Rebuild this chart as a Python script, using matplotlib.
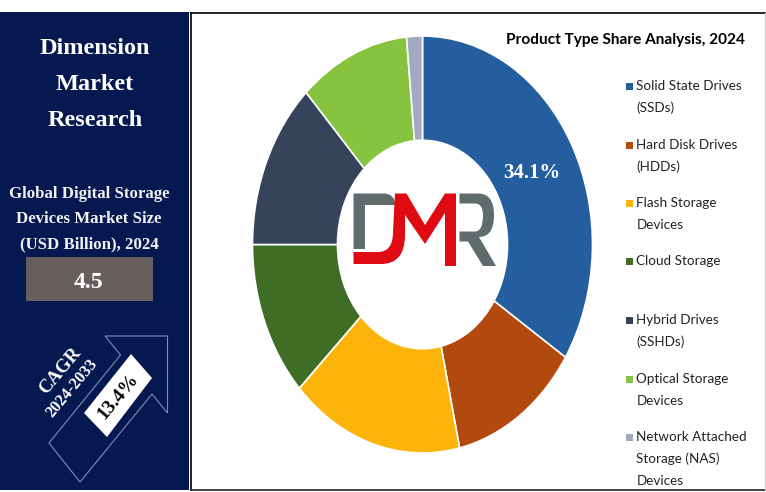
import matplotlib
matplotlib.use('Agg')
import matplotlib.pyplot as plt
from matplotlib.patches import Rectangle, Polygon, PathPatch
from matplotlib.path import Path

W, H = 766, 492

# shares, only SSD is printed on the chart
segments = ['Solid State Drives\n(SSDs)', 'Hard Disk Drives\n(HDDs)', 'Flash Storage\nDevices',
            'Cloud Storage', 'Hybrid Drives\n(SSHDs)', 'Optical Storage\nDevices',
            'Network Attached\nStorage (NAS)\nDevices']
shares = [34.1, 12.4, 16.4, 12.1, 13.0, 10.5, 1.5]
colors = ['#255E9F', '#B2490F', '#FDB40A', '#3F6D26', '#35435B', '#86C440', '#A0ABC0']
legend_y = [86, 145, 203, 261, 320, 379, 437]

NAVY = '#05184F'
GREY_LOGO = '#5F6C6B'
RED_LOGO = '#E00A12'

fig = plt.figure(figsize=(W / 100, H / 100), dpi=100)
ax = fig.add_axes([0, 0, 1, 1])
ax.set_xlim(0, W)
ax.set_ylim(H, 0)
ax.axis('off')

# left panel and frame
ax.add_patch(Rectangle((0, 12), 189, 477.5, fc=NAVY, ec='none'))
ax.plot([190.5, 764.5], [13, 13], color='black', lw=1.2)
ax.plot([190.5, 190.5], [13, 489.5], color='black', lw=1.2)
ax.plot([190.5, 764.5], [489.5, 489.5], color='#222222', lw=1.2)
ax.plot([764.5, 764.5], [13, 489.5], color='#C8C8C8', lw=0.8)

# donut, stretched to an ellipse like the reference
pie_ax = fig.add_axes([(422.5 - 170) / W, 1 - (244.5 + 208.5) / H, 340 / W, 417 / H])
pie_ax.pie(shares, colors=colors, startangle=90, counterclock=False,
           radius=1, wedgeprops=dict(width=0.5, edgecolor='white', linewidth=1.2))
pie_ax.set_aspect('auto')
pie_ax.set_xlim(-1, 1)
pie_ax.set_ylim(-1, 1)
pie_ax.text(0.645, 0.345, '34.1%', color='white', fontsize=15, fontweight='bold',
            family='Liberation Serif', ha='center', va='center')

# DMR logo, points are pixels
def shape(pts, color):
    verts = [p[:2] for p in pts]
    codes = [p[2] if len(p) > 2 else Path.LINETO for p in pts]
    codes[0] = Path.MOVETO
    verts.append(verts[0])
    codes.append(Path.CLOSEPOLY)
    ax.add_patch(PathPatch(Path(verts, codes), fc=color, ec='none', zorder=5))

C = Path.CURVE3
shape([(353.5, 193.5), (384, 193.5), (394, 193.5, C), (396, 205), (383, 205), (365, 205), (365, 249), (353.5, 249)], GREY_LOGO)
shape([(395, 193.5), (406.5, 193.5), (425, 225), (445, 193.5), (456, 193.5), (456, 266), (445, 266), (445, 213),
       (425, 244), (405, 215), (405, 235), (405, 264, C), (381, 264), (353.5, 264), (353.5, 252), (378, 252), (393, 252, C), (393, 232)], RED_LOGO)
shape([(459.5, 193.5), (478, 193.5), (494, 193.5, C), (494, 215), (494, 237, C), (479, 237), (496, 266), (483, 266), (468, 241.5),
       (459.5, 241.5), (459.5, 231.5), (475, 231.5), (483, 231.5, C), (483, 215), (483, 203.5, C), (475, 203.5), (459.5, 203.5)], GREY_LOGO)

# legend
LEG_FONT = 'Lato'
for seg, col, y in zip(segments, colors, legend_y):
    ax.add_patch(Rectangle((625.5, y - 3.5), 7, 7, fc=col, ec='none'))
    for i, line in enumerate(seg.split('\n')):
        ax.text(636.5, y + i * 22, line, fontsize=9.7, family=LEG_FONT, color='#222222', va='center', ha='left')

ax.text(625, 40, 'Product Type Share Analysis, 2024', fontsize=11.1, fontweight='bold', family=LEG_FONT,
        color='black', ha='center', va='center')

# left panel text
SERIF = 'Liberation Serif'
for txt, y in zip(['Dimension', 'Market', 'Research'], [48, 84, 120]):
    ax.text(95, y, txt, color='white', fontsize=17.5, fontweight='bold', family=SERIF, ha='center', va='center')
for txt, y in zip(['Global Digital Storage', 'Devices Market Size', '(USD Billion), 2024'], [194, 219, 244]):
    ax.text(89, y, txt, color='#F2F2F2', fontsize=12.1, fontweight='bold', family=SERIF, ha='center', va='center')

ax.add_patch(Rectangle((25.5, 257), 127.5, 44, fc='#665F5E', ec='none'))
ax.text(88.5, 282, '4.5', color='white', fontsize=17, fontweight='bold', family=SERIF, ha='center', va='center')

# CAGR arrow
ax.add_patch(Polygon([(105, 336), (167.5, 336), (167.5, 413), (152, 394), (80, 482), (49, 443), (120.5, 355)],
                     closed=True, fc='none', ec='#7C8DB8', lw=0.8))
ax.add_patch(Polygon([(131, 354), (152, 378), (107, 437), (84, 413)], closed=True, fc='white', ec='none'))
ax.text(118, 397, '13.4%', color='black', fontsize=14, fontweight='bold', family=SERIF,
        rotation=50, rotation_mode='anchor', ha='center', va='center')
ax.text(60, 371, 'CAGR', color='white', fontsize=13.5, fontweight='bold', family=SERIF,
        rotation=50, rotation_mode='anchor', ha='center', va='center')
ax.text(72, 388, '2024-2033', color='white', fontsize=11.8, fontweight='bold', family=SERIF,
        rotation=50, rotation_mode='anchor', ha='center', va='center')

fig.savefig('out.png', dpi=100)
